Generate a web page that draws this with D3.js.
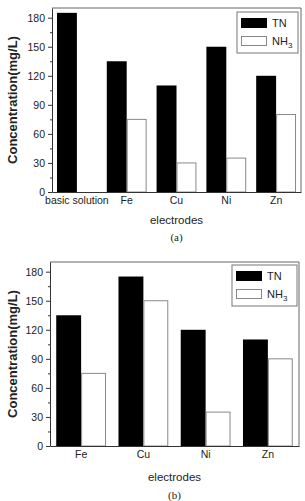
<!DOCTYPE html>
<html>
<head>
<meta charset="utf-8">
<script src="https://cdn.jsdelivr.net/npm/d3@7"></script>
<style>
  body { margin: 0; background: #fff; }
  svg text { font-family: "Liberation Sans", Arial, sans-serif; }
</style>
</head>
<body>
<div id="graphic"></div>
<script>
// data
let catsA = ["basic solution", "Fe", "Cu", "Ni", "Zn"];
let tnA = [185, 135, 110, 150, 120];
let nh3A = [0, 75, 30, 35, 80];

let catsB = ["Fe", "Cu", "Ni", "Zn"];
let tnB = [135, 175, 120, 110];
let nh3B = [75, 150, 35, 90];

let yTicks = [0, 30, 60, 90, 120, 150, 180];
let yMinor = [15, 45, 75, 105, 135, 165];

let svg = d3.select("#graphic")
  .append("svg")
    .attr("width", 305)
    .attr("height", 501);

function panel(box, cats, tn, nh3, caption) {
    let g = svg.append("g");

    let x = d3.scaleBand()
        .domain(cats)
        .range([box.left, box.right])
        .padding(0);
    let y = d3.scaleLinear()
        .domain([0, 190])
        .range([box.bottom, box.top]);
    let bw = x.bandwidth() * 0.4;

    // frame (top and right)
    g.append("path")
        .attr("d", `M${box.left},${box.top}H${box.right}V${box.bottom}`)
        .attr("fill", "none")
        .attr("stroke", "#666")
        .attr("stroke-width", 1);

    // TN bars
    g.selectAll(".tn")
      .data(cats)
      .enter()
      .append("rect")
        .attr("x", (d) => x(d) + x.bandwidth() / 2 - bw)
        .attr("y", (d, i) => y(tn[i]))
        .attr("width", bw)
        .attr("height", (d, i) => y(0) - y(tn[i]))
        .attr("fill", "#000");

    // NH3 bars
    g.selectAll(".nh3")
      .data(cats)
      .enter()
      .append("rect")
        .attr("x", (d) => x(d) + x.bandwidth() / 2 + 0.5)
        .attr("y", (d, i) => y(nh3[i]))
        .attr("width", bw - 1)
        .attr("height", (d, i) => y(0) - y(nh3[i]))
        .attr("fill", "#fff")
        .attr("stroke", "#888")
        .attr("stroke-width", 1)
        .style("display", (d, i) => nh3[i] > 0 ? null : "none");

    // minor ticks
    g.append("g")
        .attr("transform", `translate(${box.left},0)`)
        .call(d3.axisLeft(y).tickValues(yMinor).tickSize(2).tickFormat(""))
        .call(a => a.select(".domain").remove())
        .selectAll("line").attr("stroke", "#333");

    // y axis
    g.append("g")
        .attr("transform", `translate(${box.left},0)`)
        .call(d3.axisLeft(y).tickValues(yTicks).tickSize(4).tickPadding(3).tickSizeOuter(0))
        .call(a => a.selectAll("text").style("font-size", "10.5px").attr("fill", "#222"))
        .call(a => a.selectAll("line, .domain").attr("stroke", "#333"));

    // x axis
    g.append("g")
        .attr("transform", `translate(0,${box.bottom})`)
        .call(d3.axisBottom(x).tickSize(0).tickPadding(5).tickSizeOuter(0))
        .call(a => a.selectAll("text").style("font-size", "10.5px").attr("fill", "#222"))
        .call(a => a.select(".domain").attr("stroke", "#333"));

    // axis titles
    g.append("text")
        .attr("transform", `translate(17,${(box.top + box.bottom) / 2}) rotate(-90)`)
        .attr("text-anchor", "middle")
        .style("font-size", "13px")
        .style("font-weight", "bold")
        .attr("fill", "#222")
        .text("Concentration(mg/L)");

    g.append("text")
        .attr("x", (box.left + box.right) / 2)
        .attr("y", box.bottom + box.xt)
        .attr("text-anchor", "middle")
        .style("font-size", "11.5px")
        .attr("fill", "#222")
        .text("electrodes");

    g.append("text")
        .attr("x", (box.left + box.right) / 2)
        .attr("y", box.bottom + box.cap)
        .attr("text-anchor", "middle")
        .style("font-family", "'Liberation Serif', serif")
        .style("font-size", "11px")
        .attr("fill", "#222")
        .text(caption);

    // legend
    let lg = g.append("g").attr("transform", `translate(${box.lx},${box.ly})`);
    lg.append("rect")
        .attr("width", box.lw).attr("height", 41)
        .attr("fill", "#fff").attr("stroke", "#777");
    lg.append("rect")
        .attr("x", 4).attr("y", 6).attr("width", 26).attr("height", 10)
        .attr("fill", "#000");
    lg.append("rect")
        .attr("x", 4.5).attr("y", 24.5).attr("width", 25).attr("height", 9)
        .attr("fill", "#fff").attr("stroke", "#888");
    lg.append("text")
        .attr("x", 35).attr("y", 15)
        .style("font-size", "11px").attr("fill", "#222")
        .text("TN");
    let t = lg.append("text")
        .attr("x", 35).attr("y", 33)
        .style("font-size", "11px").attr("fill", "#222");
    t.append("tspan").text("NH");
    t.append("tspan").attr("dy", 3).style("font-size", "8px").text("3");
}

panel({left: 52, right: 301, top: 8, bottom: 192, lx: 237, ly: 12, lw: 61, xt: 32, cap: 49},
      catsA, tnA, nh3A, "(a)");
panel({left: 50, right: 299, top: 262, bottom: 446, lx: 232, ly: 265, lw: 65, xt: 35, cap: 53},
      catsB, tnB, nh3B, "(b)");
</script>
</body>
</html>
